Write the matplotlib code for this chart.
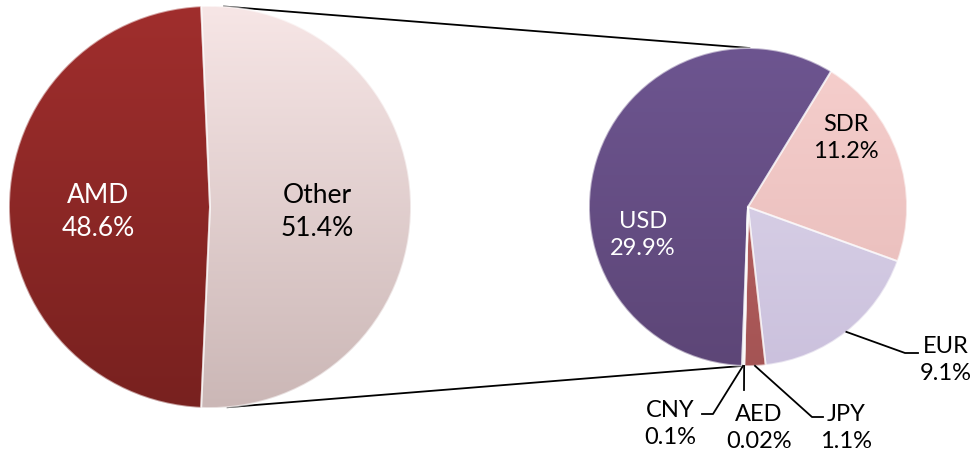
import numpy as np
import matplotlib
matplotlib.use("Agg")
import matplotlib.pyplot as plt
from matplotlib.colors import LinearSegmentedColormap

plt.rcParams['font.family'] = ['Lato', 'DejaVu Sans']

# main split
main_labels = ['AMD', 'Other']
main_values = [48.6, 51.4]

# breakdown of "Other" (clockwise order, as in the picture)
sub_labels = ['SDR', 'EUR', 'JPY', 'AED', 'CNY', 'USD']
sub_values = [11.2, 9.1, 1.1, 0.02, 0.1, 29.9]

W, H = 978, 459
fig = plt.figure(figsize=(W / 100, H / 100), dpi=100)
ax = fig.add_axes([0, 0, 1, 1])


def ytop(y):  # convert y from the top edge to axis coords
    return H - y


def shade(ax, wedges, colors, cy, r):
    # vertical gradient clipped to each wedge, light at top / dark at bottom
    grad = np.linspace(0, 1, 256)[:, None]
    for w, (light, dark) in zip(wedges, colors):
        cmap = LinearSegmentedColormap.from_list('g', [dark, light])
        x0, y0 = w.center
        im = ax.imshow(grad, cmap=cmap, origin='lower', aspect='auto',
                       extent=(x0 - r, x0 + r, cy - r, cy + r), zorder=2)
        im.set_clip_path(w)
        w.set_facecolor('none')
        w.set_edgecolor((1, 1, 1, 0.55))
        w.set_linewidth(1.4)
        w.set_zorder(3)


# left pie, AMD centred on the left side
L_cx, L_cy, L_r = 210, ytop(207), 201
main_colors = [('#A02E2D', '#78211F'), ('#F7E6E6', '#CBB7B6')]
start_main = 180 - 3.6 * main_values[0] / 2
lw, _ = ax.pie(main_values, startangle=start_main, counterclock=True,
               center=(L_cx, L_cy), radius=L_r, frame=True)
shade(ax, lw, main_colors, L_cy, L_r)

# right pie
R_cx, R_cy, R_r = 748, ytop(207), 159
sub_colors = [('#F6CFCD', '#E6BAB8'), ('#E0D9EC', '#CBC1DD'),
              ('#C46868', '#A45454'), ('#D8D8D8', '#BFBFBF'),
              ('#E4E4E4', '#C8C8C8'), ('#6D5590', '#5D4677')]
rw, _ = ax.pie(sub_values, startangle=58.5, counterclock=False,
               center=(R_cx, R_cy), radius=R_r, frame=True)
shade(ax, rw, sub_colors, R_cy, R_r)


def on_circle(cx, cy, r, ang):
    a = np.deg2rad(ang)
    return cx + r * np.cos(a), cy + r * np.sin(a)


# connector lines between the two pies
for la, ra in [(86, 89.5), (-85, -92)]:
    p1 = on_circle(L_cx, L_cy, L_r, la)
    p2 = on_circle(R_cx, R_cy, R_r, ra)
    ax.plot([p1[0], p2[0]], [p1[1], p2[1]], color='black', lw=1.3, zorder=1)

# labels inside the pies
fmt = lambda v: ('%.2f%%' if v < 0.1 else '%.1f%%') % v
inside = {'AMD': (98, 212, 'white'), 'Other': (317, 212, 'black')}
for lab, val in zip(main_labels, main_values):
    x, y, c = inside[lab]
    ax.text(x, ytop(y), lab + '\n' + fmt(val), ha='center', va='center',
            color=c, fontsize=19, linespacing=1.4, zorder=5)

label_pos = {'USD': (643, 235, 'white'), 'SDR': (846, 138, 'black'),
             'EUR': (946, 360, 'black'), 'JPY': (846, 428, 'black'),
             'AED': (759, 428, 'black'), 'CNY': (670, 424, 'black')}
for lab, val in zip(sub_labels, sub_values):
    x, y, c = label_pos[lab]
    ax.text(x, ytop(y), lab + '\n' + fmt(val), ha='center', va='center',
            color=c, fontsize=17, linespacing=1.4, zorder=5)

# leader lines for outside labels: wedge mid angle -> elbow -> end
leaders = {'EUR': [(905, 353), (918, 353)],
           'JPY': [(812, 417), (823, 417)],
           'AED': [(744, 390)],
           'CNY': [(713, 414), (702, 414)]}
for w, lab in zip(rw, sub_labels):
    if lab not in leaders:
        continue
    mid = (w.theta1 + w.theta2) / 2
    sx, sy = on_circle(R_cx, R_cy, R_r, mid)
    xs = [sx] + [p[0] for p in leaders[lab]]
    ys = [sy] + [ytop(p[1]) for p in leaders[lab]]
    ax.plot(xs, ys, color='black', lw=1.3, zorder=4)

ax.set_xlim(0, W)
ax.set_ylim(0, H)
ax.set_aspect('auto')
ax.axis('off')

fig.savefig('out.png', dpi=100)
